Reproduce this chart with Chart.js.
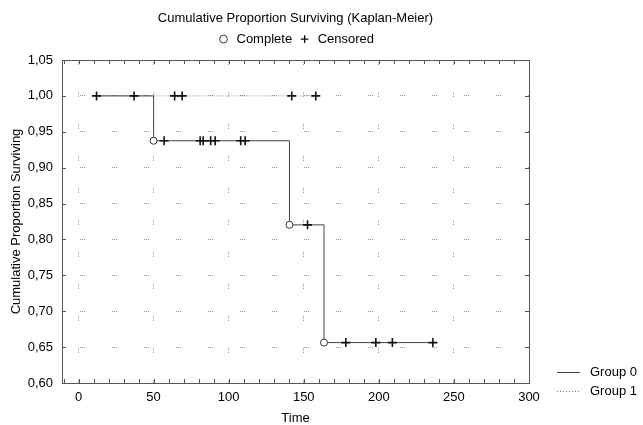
<!DOCTYPE html>
<html><head><meta charset="utf-8">
<script src="https://cdn.jsdelivr.net/npm/chart.js@4/dist/chart.umd.min.js"></script>
<style>html,body{margin:0;padding:0;background:#fff}#wrap{width:643px;height:425px;position:relative}</style>
</head><body><div id="wrap"><canvas id="c"></canvas></div>
<script>
// ---- data ----
const group0Times = [12, 50, 140.5, 163.5, 236];
const group0Surv  = [1.0, 0.9375, 0.8203, 0.6563, 0.6563];
const group1Times = [12, 158];
const group1Surv  = [1.0, 1.0];
const completeTimes = [50, 140.5, 163.5];
const completeSurv  = [0.9375, 0.8203, 0.6563];
const censored0Times = [12, 37, 57, 81, 83, 88, 91, 108, 111, 152.5, 178, 198, 209, 236];
const censored0Surv  = [1.0, 1.0, 0.9375, 0.9375, 0.9375, 0.9375, 0.9375, 0.9375, 0.9375, 0.8203, 0.6563, 0.6563, 0.6563, 0.6563];
const censored1Times = [64, 69, 142, 158];
const censored1Surv  = [1.0, 1.0, 1.0, 1.0];
const xTickValues = [0, 50, 100, 150, 200, 250, 300];
const yTickValues = [0.60, 0.65, 0.70, 0.75, 0.80, 0.85, 0.90, 0.95, 1.00, 1.05];
const seriesNames = ['Group 0', 'Group 1'];
const markerNames = ['Complete', 'Censored'];
const titleText = 'Cumulative Proportion Surviving (Kaplan-Meier)';
const xTitle = 'Time';
const yTitle = 'Cumulative Proportion Surviving';

const pts = (xs, ys) => xs.map((x, i) => ({x: x, y: ys[i]}));
const FONT = "'Liberation Sans', Arial, sans-serif";
const GRID_DASH = [1, 1, 1, 1, 1, 27];

const framePlugin = {
  id: 'frame',
  beforeDatasetsDraw(chart) {
    const {ctx, chartArea: a, scales: {x, y}} = chart;
    ctx.save();
    ctx.strokeStyle = '#555';
    ctx.lineWidth = 1;
    ctx.strokeRect(Math.round(a.left) + 0.5, Math.round(a.top) + 0.5, Math.round(a.right - a.left), Math.round(a.bottom - a.top));
    ctx.beginPath();
    for (let v = -10; v <= 300; v += 10) {
      const px = Math.round(x.getPixelForValue(v)) + 0.5;
      if (px <= a.left + 1 || px >= a.right - 1) continue;
      ctx.moveTo(px, a.bottom); ctx.lineTo(px, a.bottom - 4);
      ctx.moveTo(px, a.top); ctx.lineTo(px, a.top + 4);
    }
    yTickValues.forEach(v => {
      const py = Math.round(y.getPixelForValue(v)) + 0.5;
      ctx.moveTo(a.left, py); ctx.lineTo(a.left + 4, py);
      ctx.moveTo(a.right, py); ctx.lineTo(a.right - 4, py);
    });
    ctx.stroke();
    ctx.restore();
  },
  afterDraw(chart) {
    const {ctx, chartArea: a} = chart;
    ctx.save();
    ctx.font = '13px ' + FONT;
    ctx.fillStyle = '#000';
    ctx.textBaseline = 'middle';
    [0, 1].forEach(i => {
      const ds = chart.data.datasets[i];
      const yy = Math.round(a.bottom - 11 + i * 19) + 0.5;
      ctx.strokeStyle = ds.borderColor;
      ctx.lineWidth = 1;
      ctx.setLineDash(ds.borderDash || []);
      ctx.beginPath();
      ctx.moveTo(a.right + 28, yy); ctx.lineTo(a.right + 51, yy);
      ctx.stroke();
      ctx.setLineDash([]);
      ctx.fillText(seriesNames[i], a.right + 61, yy);
    });
    ctx.restore();
  }
};

new Chart(document.getElementById('c'), {
  type: 'line',
  data: {
    datasets: [
      {label: seriesNames[0], data: pts(group0Times, group0Surv), stepped: 'before', borderColor: '#444', borderWidth: 1, pointRadius: 0, fill: false, order: 3},
      {label: seriesNames[1], data: pts(group1Times, group1Surv), stepped: 'before', borderColor: '#777', borderWidth: 1, borderDash: [1, 2], pointRadius: 0, fill: false, order: 4},
      {label: markerNames[0], data: pts(completeTimes, completeSurv), showLine: false, pointStyle: 'circle', pointRadius: 3.5, pointBackgroundColor: '#fff', pointBorderColor: '#333', pointBorderWidth: 1, order: 1},
      {label: markerNames[1], data: pts(censored0Times, censored0Surv), showLine: false, pointStyle: 'cross', pointRadius: 4.5, pointBorderColor: '#111', pointBorderWidth: 1.6, order: 2},
      {label: markerNames[1] + ' 1', data: pts(censored1Times, censored1Surv), showLine: false, pointStyle: 'cross', pointRadius: 4.5, pointBorderColor: '#111', pointBorderWidth: 1.6, order: 2}
    ]
  },
  options: {
    responsive: true,
    maintainAspectRatio: false,
    animation: false,
    events: [],
    layout: {padding: {left: 0, right: 114, top: 0, bottom: 0}},
    plugins: {
      title: {display: true, text: titleText, fullSize: false, color: '#000', font: {family: FONT, size: 13, weight: 'normal', lineHeight: 1.2}, padding: {top: 11, bottom: 0}},
      legend: {
        display: true, position: 'top', fullSize: false,
        labels: {
          usePointStyle: true, color: '#000', font: {family: FONT, size: 13}, padding: 6, boxWidth: 13, boxHeight: 5.5,
          generateLabels: () => [
            {text: markerNames[0], pointStyle: 'circle', fillStyle: '#fff', strokeStyle: '#333', lineWidth: 1, fontColor: '#000'},
            {text: markerNames[1], pointStyle: 'cross', fillStyle: '#000', strokeStyle: '#111', lineWidth: 1.4, fontColor: '#000'}
          ]
        }
      },
      tooltip: {enabled: false}
    },
    scales: {
      x: {
        type: 'linear', min: -11, max: 300,
        afterBuildTicks: s => { s.ticks = xTickValues.map(v => ({value: v})); },
        afterFit: s => { s.height = 42; },
        ticks: {color: '#000', font: {family: FONT, size: 13}, padding: 7, maxRotation: 0},
        grid: {color: '#999', lineWidth: 1, drawTicks: false},
        border: {display: false, dash: GRID_DASH, dashOffset: 0},
        title: {display: true, text: xTitle, color: '#000', font: {family: FONT, size: 13, lineHeight: 1.0}, padding: {top: 4, bottom: 0}}
      },
      xTop: {
        type: 'linear', position: 'top', min: -11, max: 300,
        grid: {display: false, drawTicks: false}, ticks: {display: false}, border: {display: false},
        afterFit: s => { s.height = 4.4; }
      },
      y: {
        type: 'linear', min: 0.60, max: 1.05,
        afterBuildTicks: s => { s.ticks = yTickValues.map(v => ({value: v})); },
        afterFit: s => { s.width = 62; },
        ticks: {color: '#000', font: {family: FONT, size: 13}, padding: 9, callback: v => v.toFixed(2).replace('.', ',')},
        grid: {color: '#999', lineWidth: 1, drawTicks: false},
        border: {display: false, dash: GRID_DASH, dashOffset: 14},
        title: {display: true, text: yTitle, color: '#000', font: {family: FONT, size: 13}, padding: {top: 9, bottom: 0}}
      }
    }
  },
  plugins: [framePlugin]
});
</script>
</body></html>
